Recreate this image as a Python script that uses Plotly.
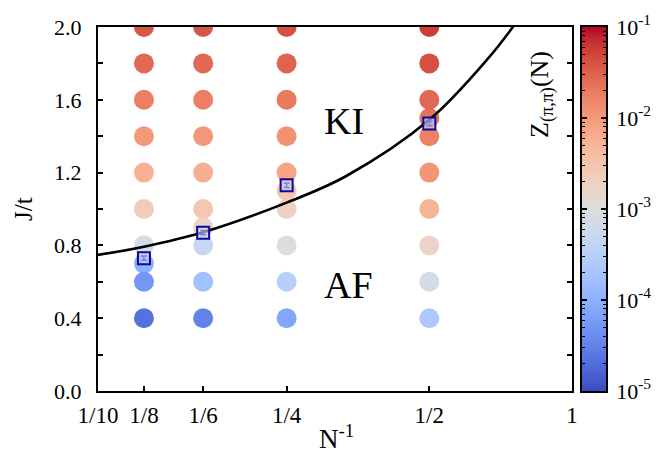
import numpy as np
import plotly.graph_objects as go

# ---- data -------------------------------------------------------------
# Cluster sizes (as 1/N) and J/t grid for the structure-factor map
n_inv_cols = [1/8, 1/6, 1/4, 1/2]

# J/t values on the regular grid for each column
j_grid = [0.4, 0.6, 0.8, 1.0, 1.2, 1.4, 1.6, 1.8, 2.0]

# Z_(pi,pi)(N) on the regular grid, one list per column (1/8, 1/6, 1/4, 1/2)
z_n8 = [2.2e-5, 5.2e-5, 7.6e-4, 2.3e-3, 5.8e-3, 1.05e-2, 1.8e-2, 2.75e-2, 3.8e-2]
z_n6 = [3.2e-5, 1.7e-4, 4.8e-4, 2.8e-3, 6.0e-3, 1.05e-2, 1.8e-2, 2.75e-2, 3.8e-2]
z_n4 = [7.6e-5, 3.2e-4, 1.0e-3, 1.9e-3, 7.6e-3, 1.2e-2, 2.0e-2, 3.0e-2, 4.2e-2]
z_n2 = [2.3e-4, 7.2e-4, 1.7e-3, 5.2e-3, 1.1e-2, 1.7e-2, 2.75e-2, 4.2e-2, 5.5e-2]

# Extra points near the transition
extra_n_inv = [1/8, 1/6, 1/4, 1/2]
extra_j = [0.7, 0.9, 1.1, 1.5]
extra_z = [1.0e-4, 1.7e-3, 2.8e-3, 2.3e-2]

# Critical couplings J_c/t with error bars
jc_n_inv = [1/8, 1/6, 1/4, 1/2]
jc_vals = [0.73, 0.87, 1.13, 1.47]
jc_err = [0.012, 0.012, 0.012, 0.012]

# Phase boundary
boundary_n_inv = [0.1, 0.125, 1/6, 0.25, 1/3, 0.5, 2/3, 0.76]
boundary_j = [0.748, 0.793, 0.872, 1.035, 1.18, 1.49, 1.83, 2.02]

# Axis ticks
x_tickvals = [0.1, 0.125, 1/6, 0.25, 0.5, 1.0]
x_ticktext = ["1/10", "1/8", "1/6", "1/4", "1/2", "1"]
y_tickvals = [0.0, 0.4, 0.8, 1.2, 1.6, 2.0]
cbar_exponents = [-5, -4, -3, -2, -1]

# ---- styling ------------------------------------------------------------
coolwarm = [
    (59, 76, 192), (68, 90, 204), (77, 104, 215), (87, 117, 225), (98, 130, 234),
    (108, 142, 241), (119, 154, 247), (130, 165, 251), (141, 176, 254), (152, 185, 255),
    (163, 194, 255), (174, 201, 253), (184, 208, 249), (194, 213, 244), (204, 217, 238),
    (213, 219, 230), (221, 221, 221), (229, 216, 209), (236, 211, 197), (241, 204, 185),
    (245, 196, 173), (247, 187, 160), (247, 177, 148), (247, 166, 135), (244, 154, 123),
    (241, 141, 111), (236, 127, 99), (229, 112, 88), (222, 96, 77), (213, 80, 66),
    (203, 62, 56), (192, 40, 47), (180, 4, 38),
]
colorscale = [[i / (len(coolwarm) - 1), "rgb(%d,%d,%d)" % c] for i, c in enumerate(coolwarm)]
CMIN, CMAX = -5, -1
FONT = "Liberation Serif, Times New Roman, serif"

W, H = 668, 468
x_dom = [98 / W, 572 / W]
y_dom = [1 - 391 / H, 1 - 27 / H]
cb_dom = [582 / W, 606 / W]

fig = go.Figure()

# off-grid points first so grid dots sit on top of them
fig.add_trace(go.Scatter(
    x=extra_n_inv, y=extra_j, mode="markers",
    marker=dict(size=20, color=np.log10(extra_z), colorscale=colorscale,
                cmin=CMIN, cmax=CMAX, line=dict(width=0)),
    showlegend=False, hoverinfo="skip"))

for n_inv, zs in zip(n_inv_cols, [z_n8, z_n6, z_n4, z_n2]):
    fig.add_trace(go.Scatter(
        x=[n_inv] * len(j_grid), y=j_grid, mode="markers",
        marker=dict(size=20, color=np.log10(zs), colorscale=colorscale,
                    cmin=CMIN, cmax=CMAX, line=dict(width=0)),
        showlegend=False, hoverinfo="skip"))

# phase boundary
fig.add_trace(go.Scatter(
    x=boundary_n_inv, y=boundary_j, mode="lines",
    line=dict(color="black", width=2.6, shape="spline", smoothing=1.0),
    showlegend=False, hoverinfo="skip"))

# critical points
fig.add_trace(go.Scatter(
    x=jc_n_inv, y=jc_vals, mode="markers",
    marker=dict(symbol="square", size=12, color="rgba(200,210,255,0.6)",
                line=dict(color="rgb(10,10,150)", width=2)),
    error_y=dict(type="data", array=jc_err, color="rgb(10,10,150)",
                 thickness=1.5, width=3),
    showlegend=False, hoverinfo="skip"))

# colour bar drawn as a heatmap on its own axes
cb_y = np.linspace(CMIN, CMAX, 400)
fig.add_trace(go.Heatmap(
    x=[0, 1], y=cb_y, z=np.column_stack([cb_y, cb_y]),
    colorscale=colorscale, zmin=CMIN, zmax=CMAX, showscale=False,
    xaxis="x2", yaxis="y2", hoverinfo="skip"))

minor_cb = [e + np.log10(k) for e in cbar_exponents[:-1] for k in range(2, 10)]


def label(text, x, y, size, angle=0):
    return dict(text=text, x=x / W, y=1 - y / H, xref="paper", yref="paper",
                xanchor="center", yanchor="middle", textangle=angle,
                showarrow=False, font=dict(size=size, family=FONT))


fig.update_layout(
    width=W, height=H,
    margin=dict(l=0, r=0, t=0, b=0, pad=0, autoexpand=False),
    paper_bgcolor="white", plot_bgcolor="white",
    font=dict(family=FONT, color="black"),
    xaxis=dict(
        type="log", domain=x_dom, range=[-1, 0], automargin=False,
        tickvals=x_tickvals, ticktext=x_ticktext,
        ticks="inside", ticklen=5, tickwidth=1.5, tickcolor="black",
        ticklabelstandoff=2,
        showline=True, linewidth=2, linecolor="black", mirror=True,
        showgrid=False, zeroline=False, tickfont=dict(size=23, family=FONT),
    ),
    yaxis=dict(
        domain=y_dom, range=[0, 2], automargin=False,
        tickvals=y_tickvals, ticktext=["%.1f" % v for v in y_tickvals],
        ticks="inside", ticklen=5, tickwidth=1.5, tickcolor="black",
        ticklabelstandoff=10,
        minor=dict(tickvals=[0.2, 0.6, 1.0, 1.4, 1.8], ticks="inside",
                   ticklen=5, tickwidth=1.5, tickcolor="black"),
        showline=True, linewidth=2, linecolor="black", mirror="ticks",
        showgrid=False, zeroline=False, tickfont=dict(size=22, family=FONT),
    ),
    xaxis2=dict(
        domain=cb_dom, range=[0, 1], anchor="y2", automargin=False,
        showticklabels=False, ticks="", showgrid=False, zeroline=False,
        showline=True, linewidth=1.5, linecolor="black", mirror=True,
    ),
    yaxis2=dict(
        domain=y_dom, range=[CMIN, CMAX], anchor="x2", side="right",
        automargin=False, ticklabelstandoff=4,
        tickvals=cbar_exponents,
        ticktext=["10<sup>%d</sup>" % e for e in cbar_exponents],
        ticks="inside", ticklen=5, tickwidth=1.5, tickcolor="black",
        minor=dict(tickvals=minor_cb, ticks="inside", ticklen=3,
                   tickwidth=1, tickcolor="black"),
        showline=True, linewidth=1.5, linecolor="black", mirror="ticks",
        showgrid=False, zeroline=False, tickfont=dict(size=22, family=FONT),
    ),
    annotations=[
        label("KI", 344, 121, 38),
        label("AF", 348, 285, 38),
        label("J/t", 24, 209, 25, -90),
        label("N<sup>-1</sup>", 337, 437, 27),
        label("Z<sub>(π,π)</sub>(N)", 542, 95, 26, -90),
    ],
)

fig.write_html("out.html")
